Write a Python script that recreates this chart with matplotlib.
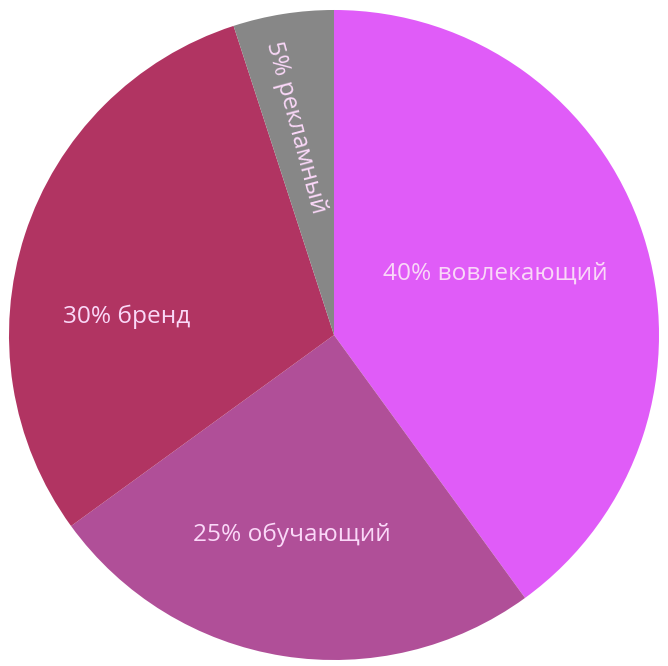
import numpy as np
import matplotlib.pyplot as plt

labels = ['40% вовлекающий', '25% обучающий', '30% бренд', '5% рекламный']
shares = [40, 25, 30, 5]
colors = ['#e05cf8', '#b04f98', '#b13462', '#878787']
# label placement (radius as fraction, angle in degrees)
label_pos = [(0.53, 21), (0.63, -102), (0.64, 175), (0.65, 100.5)]
label_rot = [0, 0, 0, -75]

plt.rcParams['font.family'] = ['Open Sans', 'DejaVu Sans']

fig = plt.figure(figsize=(6.68, 6.66), dpi=100)
ax = fig.add_axes([0.012, 0.009, 0.976, 0.976])
wedges, _ = ax.pie(shares, colors=colors, startangle=90, counterclock=False,
                   wedgeprops=dict(linewidth=0))

for lab, (r, ang), rot in zip(labels, label_pos, label_rot):
    a = np.deg2rad(ang)
    ax.text(r * np.cos(a), r * np.sin(a), lab, ha='center', va='center',
            rotation=rot, rotation_mode='anchor', fontsize=17.6,
            color='#fad8f8')

ax.set_xlim(-1, 1)
ax.set_ylim(-1, 1)
ax.set_aspect('equal')
fig.savefig('out.png', dpi=100, facecolor='white')
